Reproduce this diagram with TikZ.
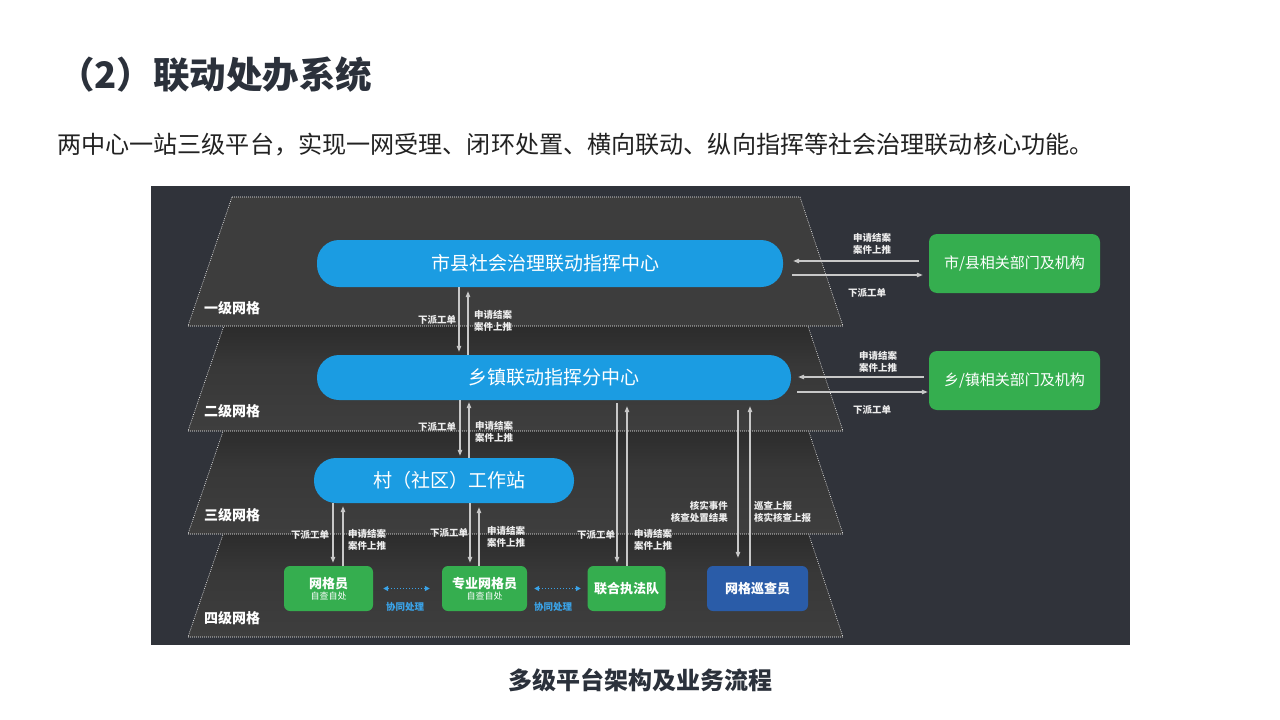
\documentclass[tikz,border=0pt]{standalone}
\usepackage{fontspec}
\setmainfont{Noto Sans CJK SC}
\usetikzlibrary{arrows.meta,shadings}
\definecolor{titlecol}{HTML}{2B313B}
\definecolor{subcol}{HTML}{222222}
\definecolor{panel}{HTML}{30333A}
\definecolor{layerA}{HTML}{3D3D3D}
\definecolor{layerTop}{HTML}{242424}
\definecolor{layerBot}{HTML}{3E3E3E}
\definecolor{pillblue}{HTML}{1B9CE2}
\definecolor{boxgreen}{HTML}{35AE4F}
\definecolor{boxblue}{HTML}{2A5CA8}
\definecolor{arrowgray}{HTML}{C8C8C8}
\definecolor{coopblue}{HTML}{3AA3E8}
\definecolor{labwhite}{HTML}{EDEDED}
\tikzset{
  layerfirst/.style={fill=layerA, draw=white!75, line width=0.6pt, dash pattern=on 0.8pt off 1.2pt},
  layerlow/.style={top color=layerTop, bottom color=layerBot, middle color=layerBot!90!black, draw=white!75, line width=0.6pt, dash pattern=on 0.8pt off 1.2pt},
  pill/.style={rectangle, rounded corners=22pt, fill=pillblue, text=white, font=\fontsize{19}{22}\selectfont, inner sep=0pt},
  gbox/.style={rectangle, rounded corners=8pt, fill=boxgreen, text=white, font=\fontsize{15}{18}\selectfont, inner sep=0pt, minimum width=171pt, minimum height=59pt},
  unitbox/.style={rectangle, rounded corners=6pt, text=white, align=center, inner sep=0pt, minimum height=45pt},
  layerlab/.style={anchor=west, text=white, font=\fontsize{14}{16}\selectfont\bfseries, inner sep=0pt},
  lab/.style={text=labwhite, font=\fontsize{9.5}{12}\selectfont\bfseries, align=center, inner sep=0pt},
  arr/.style={draw=arrowgray, line width=1.1pt, -{Triangle[length=6pt,width=4.5pt]}},
  coop/.style={draw=coopblue, line width=1.3pt, dash pattern=on 1.3pt off 1.7pt, {Triangle[length=5pt,width=5pt]}-{Triangle[length=5pt,width=5pt]}},
  cooplab/.style={text=coopblue, font=\fontsize{9.5}{12}\selectfont\bfseries, inner sep=0pt}
}
\begin{document}
\begin{tikzpicture}[x=1pt,y=-1pt]
\useasboundingbox (0,0) rectangle (1280,720);
\fill[white] (0,0) rectangle (1280,720);

% titles
\node[anchor=west, inner sep=0pt, text=titlecol, font=\fontsize{36.5}{40}\selectfont\bfseries] (title) at (58,75) {（2）联动处办系统};
\node[anchor=west, inner sep=0pt, text=subcol, font=\fontsize{24.1}{28}\selectfont] (sub) at (57,145) {两中心一站三级平台，实现一网受理、闭环处置、横向联动、纵向指挥等社会治理联动核心功能。};

% panel
\fill[panel] (151,186) rectangle (1130,645);

% layers (bottom first)
\path[layerlow] (232,508) -- (800,508) -- (843,637) -- (188,637) -- cycle;
\path[layerlow] (232,405) -- (800,405) -- (843,534) -- (188,534) -- cycle;
\path[layerlow] (232,302) -- (800,302) -- (843,431) -- (188,431) -- cycle;
\path[layerfirst] (232,197) -- (800,197) -- (843,326) -- (188,326) -- cycle;

\node[layerlab] (l1) at (204,308) {一级网格};
\node[layerlab] (l2) at (204,411) {二级网格};
\node[layerlab] (l3) at (204,515) {三级网格};
\node[layerlab] (l4) at (204,618) {四级网格};

% pills
\node[pill, minimum width=466pt, minimum height=47pt] (p1) at (550,263.5) {市县社会治理联动指挥中心\hspace*{9pt}};
\node[pill, minimum width=474pt, minimum height=45pt] (p2) at (554,377.5) {乡镇联动指挥分中心};
\node[pill, minimum width=260pt, minimum height=45pt] (p3) at (444,480.5) {\hspace*{11pt}村（社区）工作站};

% right boxes
\node[gbox] (g1) at (1014.5,263.5) {市/县相关部门及机构};
\node[gbox] (g2) at (1014.5,380.5) {乡/镇相关部门及机构};

% bottom units
\node[unitbox, fill=boxgreen, minimum width=89pt] (w1) at (328.5,588.5) {{\fontsize{13}{15}\selectfont\bfseries 网格员}\\[-1pt]{\fontsize{9}{11}\selectfont 自查自处}};
\node[unitbox, fill=boxgreen, minimum width=85pt] (w2) at (484.5,588.5) {{\fontsize{13}{15}\selectfont\bfseries 专业网格员}\\[-1pt]{\fontsize{9}{11}\selectfont 自查自处}};
\node[unitbox, fill=boxgreen, minimum width=78pt] (w3) at (626.5,588.5) {\fontsize{13}{15}\selectfont\bfseries 联合执法队};
\node[unitbox, fill=boxblue, minimum width=101pt] (w4) at (757.5,588.5) {\fontsize{13}{15}\selectfont\bfseries 网格巡查员};

% column / row helper coordinates
\coordinate (xa) at (459,0);
\coordinate (xb) at (468,0);
\coordinate (xc) at (460,0);
\coordinate (xd) at (469,0);
\coordinate (xe) at (333,0);
\coordinate (xf) at (343,0);
\coordinate (xg) at (470,0);
\coordinate (xh) at (479,0);
\coordinate (xi) at (617,0);
\coordinate (xj) at (627,0);
\coordinate (xk) at (738,0);
\coordinate (xl) at (750,0);
\coordinate (ya) at (0,261);
\coordinate (yb) at (0,275);
\coordinate (yc) at (0,377);
\coordinate (yd) at (0,392);

% vertical connectors
\draw[arr, shorten >=3pt] (p1.south -| xa) -- (p2.north -| xa);
\draw[arr, shorten >=4pt] (p2.north -| xb) -- (p1.south -| xb);
\draw[arr, shorten >=2pt] (p2.south -| xc) -- (p3.north -| xc);
\draw[arr, shorten >=2pt] (p3.north -| xd) -- (p2.south -| xd);
\draw[arr, shorten >=3pt] (p3.south -| xe) -- (w1.north -| xe);
\draw[arr, shorten >=3pt] (w1.north -| xf) -- (p3.south -| xf);
\draw[arr, shorten >=3pt] (p3.south -| xg) -- (w2.north -| xg);
\draw[arr, shorten >=4pt] (w2.north -| xh) -- (p3.south -| xh);
\draw[arr, shorten <=3pt, shorten >=3pt] (p2.south -| xi) -- (w3.north -| xi);
\draw[arr, shorten >=6pt] (w3.north -| xj) -- (p2.south -| xj);
\draw[arr, shorten <=10pt, shorten >=8pt] (p2.south -| xk) -- (w4.north -| xk);
\draw[arr, shorten >=6pt] (w4.north -| xl) -- (p2.south -| xl);

% horizontal connectors
\draw[arr, shorten <=10pt, shorten >=10pt] (g1.west |- ya) -- (p1.east |- ya);
\draw[arr, shorten <=9pt, shorten >=6pt] (p1.east |- yb) -- (g1.west |- yb);
\draw[arr, shorten <=5pt, shorten >=7pt] (g2.west |- yc) -- (p2.east |- yc);
\draw[arr, shorten <=6pt, shorten >=1pt] (p2.east |- yd) -- (g2.west |- yd);

% cooperation arrows
\draw[coop, shorten <=10pt, shorten >=12pt] (w1.east) -- (w2.west);
\draw[coop, shorten <=7pt, shorten >=6.5pt] (w2.east) -- (w3.west);
\node[cooplab] (c1) at (405,607) {协同处理};
\node[cooplab] (c2) at (553,607) {协同处理};

% labels
\node[lab] (t1) at (437,320) {下派工单};
\node[lab] (t2) at (493,321) {申请结案\\案件上推};
\node[lab] (t3) at (437,427) {下派工单};
\node[lab] (t4) at (494,432) {申请结案\\案件上推};
\node[lab] (t5) at (310,535) {下派工单};
\node[lab] (t6) at (367,540) {申请结案\\案件上推};
\node[lab] (t7) at (449,533) {下派工单};
\node[lab] (t8) at (506,537) {申请结案\\案件上推};
\node[lab] (t9) at (596,535) {下派工单};
\node[lab] (t10) at (653,540) {申请结案\\案件上推};
\node[lab, align=right, anchor=east] (t11) at (728,512) {核实事件\\核查处置结果};
\node[lab, align=left, anchor=west] (t12) at (754,512) {巡查上报\\核实核查上报};
\node[lab] (t13) at (872,244) {申请结案\\案件上推};
\node[lab] (t14) at (867,293) {下派工单};
\node[lab] (t15) at (878,362) {申请结案\\案件上推};
\node[lab] (t16) at (872,410) {下派工单};

% caption
\node[inner sep=0pt, text=titlecol, font=\fontsize{24}{28}\selectfont\bfseries] (cap) at (640,680) {多级平台架构及业务流程};
\end{tikzpicture}
\end{document}
